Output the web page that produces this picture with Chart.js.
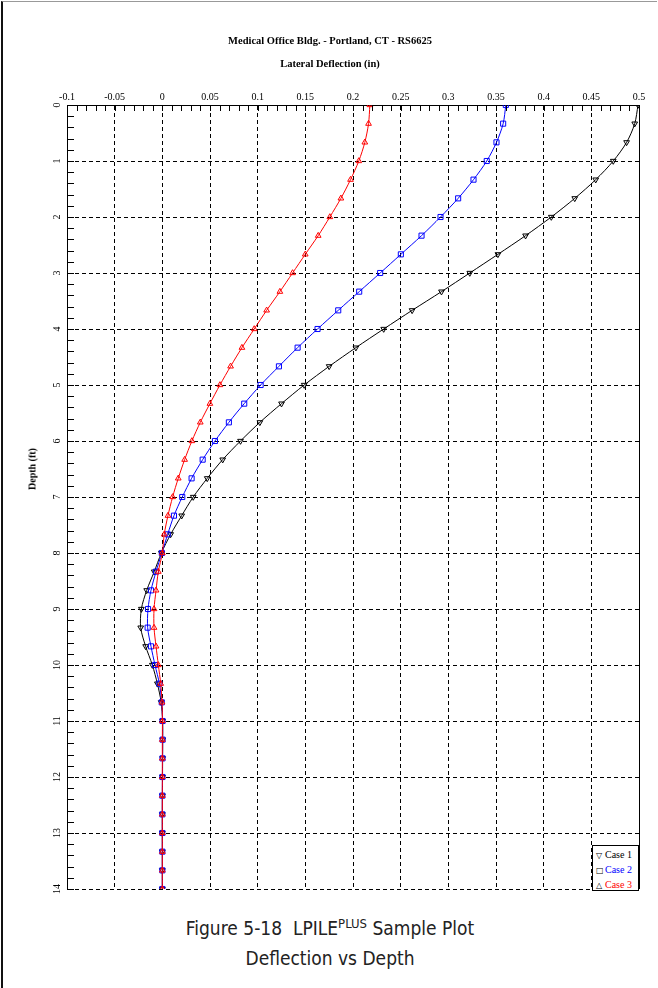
<!DOCTYPE html>
<html>
<head>
<meta charset="utf-8">
<script src="https://cdn.jsdelivr.net/npm/chart.js@4.4.1/dist/chart.umd.min.js"></script>
<style>
  html, body { margin: 0; padding: 0; background: #fff; }
  #page { position: relative; width: 658px; height: 988px; overflow: hidden; }
  #frame { position: absolute; left: 1px; top: 1px; width: 656px; height: 987px; border-left: 2px solid #111; border-top: 1px solid #999; box-sizing: border-box; }
  #wrap { position: absolute; left: 0; top: 0; width: 658px; height: 900px; }
  #ytitle { position: absolute; left: 32px; top: 469px; transform: translate(-50%, -50%) rotate(-90deg);
    font: bold 10px "Liberation Serif", "Times New Roman", serif; white-space: nowrap; }
  #legend { position: absolute; left: 592px; top: 845px; width: 47px; height: 46px; box-sizing: border-box;
    border: 1px solid #000; background: #fff; font: 10px "Liberation Serif", "Times New Roman", serif; padding-top: 1px; }
  #legend div { height: 15px; line-height: 15px; white-space: nowrap; padding-left: 3px; }
  #legend span.m { display: inline-block; width: 9px; font: 8px "DejaVu Sans", sans-serif; color: #000; }
  #caption { position: absolute; left: 0; width: 660px; top: 913px; text-align: center;
    font: 19px "Liberation Sans Narrow", "DejaVu Sans Condensed", sans-serif; line-height: 30px; color: #222; }
  #caption sup { font-size: 13px; vertical-align: 7px; line-height: 0; }
</style>
</head>
<body>
<div id="page">
  <div id="frame"></div>
  <div id="wrap"><canvas id="myChart" width="658" height="900"></canvas></div>
  <div id="ytitle">Depth (ft)</div>
  <div id="legend"></div>
  <div id="caption">Figure 5-18&nbsp; LPILE<sup>PLUS</sup> Sample Plot<br>Deflection vs Depth</div>
</div>
<script>
// profundidades (ft) de cada nodo del pilote
const profundidad = [0, 0.333, 0.667, 1, 1.333, 1.667, 2, 2.333, 2.667, 3, 3.333, 3.667, 4, 4.333, 4.667,
  5, 5.333, 5.667, 6, 6.333, 6.667, 7, 7.333, 7.667, 8, 8.333, 8.667, 9, 9.333, 9.667,
  10, 10.333, 10.667, 11, 11.333, 11.667, 12, 12.333, 12.667, 13, 13.333, 13.667, 14]

// deflexion lateral (in)
const caso1 = [0.499, 0.4955, 0.487, 0.473, 0.4546, 0.4326, 0.408, 0.381, 0.352, 0.3225, 0.2928, 0.262, 0.2322, 0.203, 0.175,
  0.1488, 0.125, 0.1023, 0.082, 0.0633, 0.0471, 0.0324, 0.0203, 0.0087, -0.001, -0.0085, -0.0164, -0.022, -0.0227, -0.0175,
  -0.0105, -0.0052, -0.0012, 0.0003, 0.0004, 0.0003, 0.0002, 0.0001, 0, 0, 0, 0, 0]
const caso2 = [0.3603, 0.3575, 0.3505, 0.3403, 0.3264, 0.3103, 0.2918, 0.2719, 0.2502, 0.2285, 0.2065, 0.1845, 0.1628, 0.1419, 0.1223,
  0.1031, 0.0859, 0.0698, 0.0552, 0.0423, 0.0307, 0.0209, 0.0122, 0.0056, -0.0005, -0.0066, -0.0119, -0.015, -0.0154, -0.0119,
  -0.0077, -0.0031, -0.0006, 0.0002, 0.0003, 0.0002, 0.0001, 0, 0, 0, 0, 0, 0]
const caso3 = [0.2177, 0.2163, 0.2124, 0.2061, 0.1974, 0.1873, 0.1757, 0.1635, 0.1499, 0.1366, 0.1233, 0.1094, 0.0964, 0.0835, 0.0716,
  0.0604, 0.0499, 0.0398, 0.031, 0.0234, 0.0167, 0.0108, 0.0059, 0.002, 0, -0.0042, -0.0066, -0.0087, -0.0087, -0.0066,
  -0.0042, -0.0017, -0.0003, 0.0001, 0, 0, 0, 0, 0, 0, 0, 0, 0]

const nombres = ['Case 1', 'Case 2', 'Case 3']
const colores = ['#000000', '#0000ff', '#ff0000']
const marcas = ['triangle', 'rect', 'triangle']
const giros = [180, 0, 0]
const simbolos = ['\u25BD', '\u25A1', '\u25B3']

const ticksX = [-0.1, -0.05, 0, 0.05, 0.1, 0.15, 0.2, 0.25, 0.3, 0.35, 0.4, 0.45, 0.5]
const etiquetasX = ['-0.1', '-0.05', '0', '0.05', '0.1', '0.15', '0.2', '0.25', '0.3', '0.35', '0.4', '0.45', '0.5']
const ticksY = [0, 1, 2, 3, 4, 5, 6, 7, 8, 9, 10, 11, 12, 13, 14]
const etiquetasY = ['0', '1', '2', '3', '4', '5', '6', '7', '8', '9', '10', '11', '12', '13', '14']

const serif = '"Liberation Serif", "Times New Roman", serif'

function puntos(valores) {
  return valores.map((v, i) => ({ x: v, y: profundidad[i] }))
}

// marcas menores y borde derecho
const marcasMenores = {
  id: 'marcasMenores',
  afterDraw(chart) {
    const { ctx, chartArea: a, scales: { x, y } } = chart
    ctx.save()
    ctx.strokeStyle = '#000'
    ctx.lineWidth = 1
    ctx.beginPath()
    for (let i = 0; i <= 60; i++) {
      const px = Math.round(x.getPixelForValue(-0.1 + i * 0.01)) + 0.5
      ctx.moveTo(px, a.top)
      ctx.lineTo(px, a.top + 6)
    }
    for (let i = 0; i <= 70; i++) {
      const py = Math.round(y.getPixelForValue(i * 0.2)) + 0.5
      ctx.moveTo(a.left, py)
      ctx.lineTo(a.left + 7, py)
    }
    const r = Math.round(a.right) + 0.5
    ctx.moveTo(r, a.top)
    ctx.lineTo(r, a.bottom)
    ctx.stroke()
    ctx.restore()
  }
}

const series = [caso1, caso2, caso3]

const mychart = new Chart(document.getElementById('myChart'), {
  type: 'scatter',
  data: {
    datasets: series.map((s, i) => ({
      label: nombres[i],
      data: puntos(s),
      showLine: true,
      borderColor: colores[i],
      borderWidth: 1,
      tension: 0.3,
      pointStyle: marcas[i],
      pointRotation: giros[i],
      pointRadius: marcas[i] === 'rect' ? 3.6 : 3.3,
      pointBorderWidth: 1,
      pointBorderColor: colores[i],
      pointBackgroundColor: 'rgba(0,0,0,0)',
      order: 2 - i
    }))
  },
  options: {
    responsive: false,
    animation: false,
    layout: { padding: { left: 21, right: 19, top: 0, bottom: 8 } },
    plugins: {
      legend: { display: false },
      tooltip: { enabled: false },
      title: {
        display: true,
        text: 'Medical Office Bldg. - Portland, CT - RS6625',
        color: '#000',
        font: { family: serif, size: 10.5, weight: 'bold' },
        padding: { top: 34.7, bottom: 0 }
      },
      subtitle: {
        display: true,
        text: 'Lateral Deflection (in)',
        color: '#000',
        font: { family: serif, size: 10.5, weight: 'bold' },
        padding: { top: 10.4, bottom: 0 }
      }
    },
    scales: {
      x: {
        type: 'linear',
        position: 'top',
        min: -0.1,
        max: 0.5,
        afterFit: s => { s.height = 34.7 },
        afterBuildTicks: s => { s.ticks = ticksX.map(v => ({ value: v })) },
        ticks: {
          color: '#000',
          font: { family: serif, size: 10 },
          padding: 2,
          maxRotation: 0,
          callback: (v, i) => etiquetasX[i]
        },
        grid: { color: '#000', lineWidth: 1, drawTicks: false },
        border: { display: true, color: '#000', width: 1, dash: [4, 3] }
      },
      y: {
        type: 'linear',
        reverse: true,
        min: 0,
        max: 14,
        afterFit: s => { s.width = 46 },
        afterBuildTicks: s => { s.ticks = ticksY.map(v => ({ value: v })) },
        ticks: {
          color: '#000',
          font: { family: serif, size: 10 },
          padding: 5,
          minRotation: 90,
          maxRotation: 90,
          crossAlign: 'center',
          callback: (v, i) => etiquetasY[i]
        },
        grid: { color: '#000', lineWidth: 1, drawTicks: false },
        border: { display: true, color: '#000', width: 1, dash: [4, 3] }
      }
    }
  },
  plugins: [marcasMenores]
})

// leyenda
const leyenda = document.getElementById('legend')
nombres.forEach((n, i) => {
  const d = document.createElement('div')
  d.innerHTML = '<span class="m">' + simbolos[i] + '</span>' + n
  d.style.color = colores[i]
  leyenda.appendChild(d)
})
</script>
</body>
</html>
